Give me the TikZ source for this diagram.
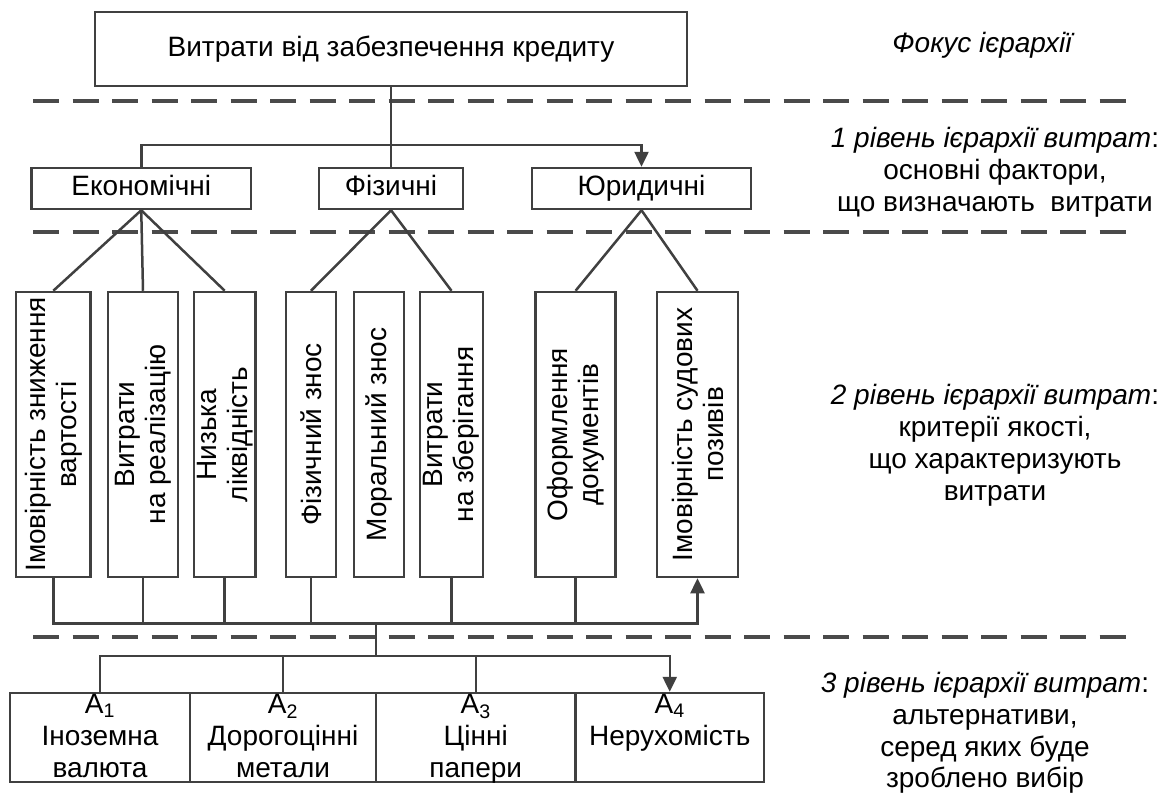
\documentclass[tikz,border=0pt]{standalone}
\usepackage{fontspec}
\setmainfont{Liberation Sans}
\usetikzlibrary{arrows.meta}
\definecolor{ink}{HTML}{404040}
\definecolor{dashc}{HTML}{4A4A4A}
\begin{document}
\begin{tikzpicture}[x=1pt,y=-1pt,
  every node/.style={font=\fontsize{28}{31}\selectfont, inner sep=0pt},
  box/.style={draw=ink, line width=2.5pt, rectangle},
  lbl/.style={text height=20pt, text depth=6pt},
  vtext/.style={rotate=90, align=center},
  link/.style={draw=ink, line width=2.5pt},
  arr/.style={link, -{Triangle[length=15pt,width=14pt]}},
  sep/.style={draw=dashc, line width=3.5pt, dash pattern=on 26pt off 13.5pt},
]
\useasboundingbox (0,0) rectangle (1173,796);

% level separators
\draw[sep] (33,101) -- (1126,101);
\draw[sep] (33,232) -- (1126,232);
\draw[sep] (33,637) -- (1126,637);

% focus of the hierarchy
\node[box, lbl, minimum width=592pt, minimum height=74pt] (top) at (391,49) {Витрати від забезпечення кредиту};

% level 1: main factors
\node[box, lbl, minimum width=219.5pt, minimum height=41pt] (eko) at (141.25,188.5) {Економічні};
\node[box, lbl, minimum width=144pt, minimum height=41pt] (fiz) at (391,188.5) {Фізичні};
\node[box, lbl, minimum width=219pt, minimum height=41pt] (yur) at (641.5,188.5) {Юридичні};

% level 2: quality criteria (boxes)
\node[box, minimum width=74.6pt, minimum height=285pt] (b1) at (53.3,434.5) {};
\node[box, minimum width=70pt,   minimum height=285pt] (b2) at (143,434.5) {};
\node[box, minimum width=61.5pt, minimum height=285pt] (b3) at (224.7,434.5) {};
\node[box, minimum width=50pt,   minimum height=285pt] (b4) at (311,434.5) {};
\node[box, minimum width=50pt,   minimum height=285pt] (b5) at (379,434.5) {};
\node[box, minimum width=63pt,   minimum height=285pt] (b6) at (451.5,434.5) {};
\node[box, minimum width=80pt,   minimum height=285pt] (b7) at (575.6,434.5) {};
\node[box, minimum width=81pt,   minimum height=285pt] (b8) at (697.5,434.5) {};

% level 2: rotated labels
\node[vtext] (t1) at (b1.center) {Імовірність зниження\\вартості};
\node[vtext] (t2) at (b2.center) {Витрати\\на реалізацію};
\node[vtext] (t3) at (b3.center) {Низька\\ліквідність};
\node[vtext] (t4) at (b4.center) {Фізичний знос};
\node[vtext] (t5) at (b5.center) {Моральний знос};
\node[vtext] (t6) at (b6.center) {Витрати\\на зберігання};
\node[vtext] (t7) at (b7.center) {Оформлення\\документів};
\node[vtext] (t8) at (b8.center) {Імовірність судових\\позивів};

% level 3: alternatives
\node[box, minimum width=180pt,   minimum height=89pt] (a1) at (100,737.5) {};
\node[box, minimum width=186pt,   minimum height=89pt] (a2) at (283,737.5) {};
\node[box, minimum width=199.5pt, minimum height=89pt] (a3) at (475.75,737.5) {};
\node[box, minimum width=188.5pt, minimum height=89pt] (a4) at (669.75,737.5) {};

\node[anchor=base] (a1l1) at (100,713) {A\textsubscript{1}};
\node[anchor=base] (a1l2) at (100,745) {Іноземна};
\node[anchor=base] (a1l3) at (100,777) {валюта};
\node[anchor=base] (a2l1) at (283,713) {A\textsubscript{2}};
\node[anchor=base] (a2l2) at (283,745) {Дорогоцінні};
\node[anchor=base] (a2l3) at (283,777) {метали};
\node[anchor=base] (a3l1) at (475.75,713) {A\textsubscript{3}};
\node[anchor=base] (a3l2) at (475.75,745) {Цінні};
\node[anchor=base] (a3l3) at (475.75,777) {папери};
\node[anchor=base] (a4l1) at (669.75,713) {A\textsubscript{4}};
\node[anchor=base] (a4l2) at (669.75,745) {Нерухомість};

% connectors: focus -> level 1
\draw[link] (top.south) -- (fiz.north);
\draw[arr] (eko.north) -- ++(0,-22) -| (yur.north);

% connectors: level 1 -> level 2
\draw[link] (eko.south) -- (b1.north);
\draw[link] (eko.south) -- (b2.north);
\draw[link] (eko.south) -- (b3.north);
\draw[link] (fiz.south) -- (b4.north);
\draw[link] (fiz.south) -- (b6.north);
\draw[link] (yur.south) -- (b7.north);
\draw[link] (yur.south) -- (b8.north);

% connectors: level 2 -> level 3
\draw[arr] (b1.south) -- ++(0,45) -| (b8.south);
\draw[link] (b2.south) -- ++(0,45);
\draw[link] (b3.south) -- ++(0,45);
\draw[link] (b4.south) -- ++(0,45);
\draw[link] (b6.south) -- ++(0,45);
\draw[link] (b7.south) -- ++(0,45);
\coordinate (hub) at (376,622);
\coordinate (hub2) at (376,657);
\draw[link] (hub) -- (hub2);
\draw[arr] (a1.north) -- ++(0,-36) -| (a4.north);
\draw[link] (a2.north) -- ++(0,-36);
\draw[link] (a3.north) -- ++(0,-36);

% level descriptions
\node[anchor=base] (r0) at (982,52) {\itshape Фокус ієрархії};
\node[anchor=base] (r1a) at (995,147) {{\itshape 1 рівень ієрархії витрат}:};
\node[anchor=base] (r1b) at (995,179) {основні фактори,};
\node[anchor=base] (r1c) at (995,211) {що визначають\ \ витрати};
\node[anchor=base] (r2a) at (995,404) {{\itshape 2 рівень ієрархії витрат}:};
\node[anchor=base] (r2b) at (995,436) {критерії якості,};
\node[anchor=base] (r2c) at (995,468) {що характеризують};
\node[anchor=base] (r2d) at (995,500) {витрати};
\node[anchor=base] (r3a) at (985,692) {{\itshape 3 рівень ієрархії витрат}:};
\node[anchor=base] (r3b) at (985,724) {альтернативи,};
\node[anchor=base] (r3c) at (985,756) {серед яких буде};
\node[anchor=base] (r3d) at (985,787) {зроблено вибір};
\end{tikzpicture}
\end{document}
